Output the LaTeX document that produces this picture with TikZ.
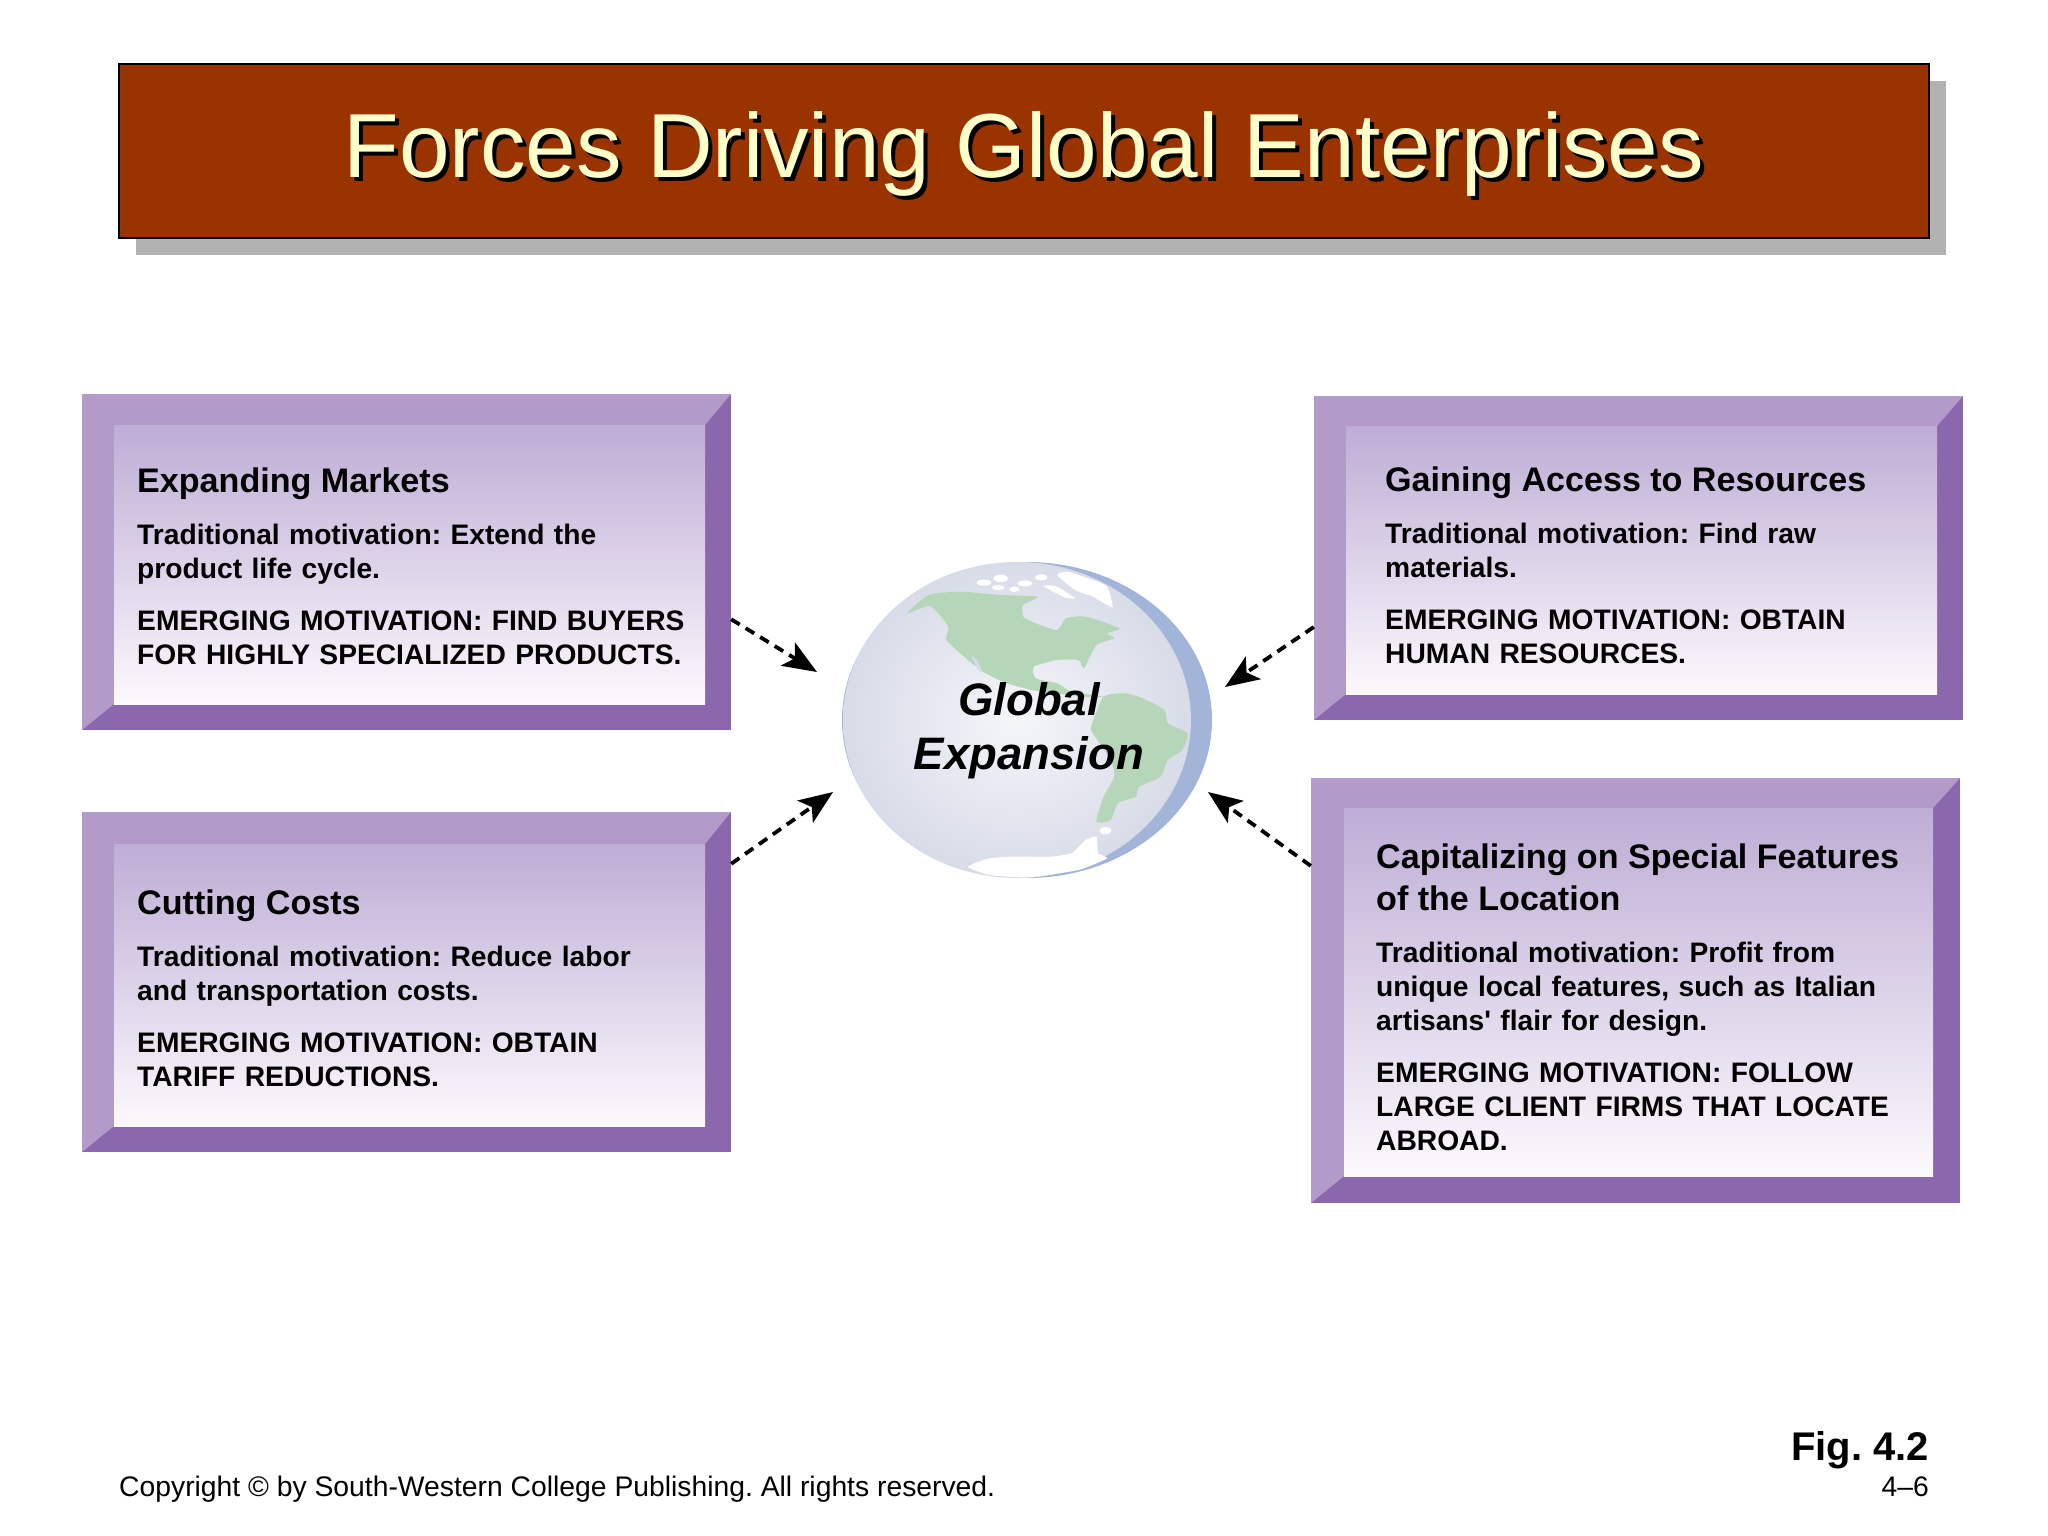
\documentclass[tikz,border=0pt]{standalone}
\usepackage{fontspec}
\setmainfont{Liberation Sans}
\usepackage{xcolor}
\usepackage{tikz}
\usetikzlibrary{arrows.meta}
\usetikzlibrary{fit}
\usetikzlibrary{shapes.geometric}
\frenchspacing
\definecolor{titlefill}{HTML}{993300}
\definecolor{titletext}{HTML}{FFFFCC}
\definecolor{titleshade}{HTML}{B2B2B2}
\definecolor{bevellight}{HTML}{B39BC9}
\definecolor{beveldark}{HTML}{8B67AE}
\definecolor{paneltop}{HTML}{BEADD5}
\definecolor{panelbottom}{HTML}{FCF9FD}
\definecolor{landgreen}{HTML}{B5D6B9}
\definecolor{globeblue}{HTML}{A2B5D8}
\definecolor{globeedge}{HTML}{D8DCE8}
\definecolor{globemid}{HTML}{F5F6FA}
\newcommand{\panelhead}[1]{{\fontsize{34.1}{42}\selectfont #1\par}}
\tikzset{
    title nodes/.style={
        anchor=base,
        inner sep=0pt,
        font=\fontsize{91}{110}\selectfont
    },
    panel text/.style={
        anchor=base west,
        inner sep=0pt,
        text width=600pt,
        font=\fontsize{28.2}{34}\selectfont\bfseries\setlength{\parskip}{18pt}\setlength{\parindent}{0pt}
    },
    globe text/.style={
        anchor=base,
        inner sep=0pt,
        font=\fontsize{45.5}{54}\selectfont\bfseries\itshape
    },
    footer text/.style={
        anchor=base east,
        inner sep=0pt
    },
    force arrow/.style={
        dashed,
        dash pattern=on 10pt off 7pt,
        line width=3.8pt,
        -{Stealth[length=34pt,width=27pt,inset=8pt]}
    }
}
\begin{document}
\begin{tikzpicture}[x=1pt,y=-1pt]
    \useasboundingbox (0,0) rectangle (2048,1536);
    % title bar
    \node[fill=titleshade,minimum width=1810pt,minimum height=173pt,inner sep=0pt] (titleshadow) at (1041,168) {};
    \node[draw=black,line width=2pt,fill=titlefill,minimum width=1810pt,minimum height=173pt,inner sep=0pt] (titlebar) at (1024,151) {};
    \node[title nodes,text=black] (titledrop) at (1028,182) {Forces Driving Global Enterprises};
    \node[title nodes,text=titletext] (titlename) at (1024,178) {Forces Driving Global Enterprises};
    % panels
    \foreach \nm/\xa/\ya/\xb/\yb/\xc/\yc/\xd/\yd in {
        expanding/82/394/731/730/114/425/705/704,
        cutting/82/812/731/1152/114/844/705/1126,
        gaining/1314/396/1963/720/1346/426/1937/694,
        special/1311/778/1960/1203/1344/808/1933/1176}
    {
        \node[fit={(\xa,\ya)(\xb,\yb)},inner sep=0pt,fill=beveldark] (\nm) {};
        \fill[bevellight] (\xa,\yb) -- (\xa,\ya) -- (\xb,\ya) -- (\xd,\yc) -- (\xc,\yc) -- (\xc,\yd) -- cycle;
        \shade[top color=paneltop,bottom color=panelbottom] (\xc,\yc) rectangle (\xd,\yd);
    }
    \node[panel text] (expandingtext) at (137,492) {\panelhead{Expanding Markets}
        Traditional motivation: Extend the\\product life cycle.\par
        EMERGING MOTIVATION: FIND BUYERS\\FOR HIGHLY SPECIALIZED PRODUCTS.};
    \node[panel text] (cuttingtext) at (137,914) {\panelhead{Cutting Costs}
        Traditional motivation: Reduce labor\\and transportation costs.\par
        EMERGING MOTIVATION: OBTAIN\\TARIFF REDUCTIONS.};
    \node[panel text] (gainingtext) at (1385,491) {\panelhead{Gaining Access to Resources}
        Traditional motivation: Find raw\\materials.\par
        EMERGING MOTIVATION: OBTAIN\\HUMAN RESOURCES.};
    \node[panel text] (specialtext) at (1376,868) {\panelhead{Capitalizing on Special Features\\of the Location}
        Traditional motivation: Profit from\\unique local features, such as Italian\\artisans\textquotesingle{} flair for design.\par
        EMERGING MOTIVATION: FOLLOW\\LARGE CLIENT FIRMS THAT LOCATE\\ABROAD.};
    % globe
    \node[ellipse,fill=globeblue,minimum width=370pt,minimum height=316pt,inner sep=0pt] (globe) at (1027,720) {};
    \shade[inner color=globemid,outer color=globeedge] (1017,720) ellipse [x radius=174,y radius=158];
    \begin{scope}[shift={(800,520)},x=0.35714pt,y=-0.33333pt]
        \fill[landgreen] plot[smooth cycle,tension=0.35] coordinates {(300,280) (360,225) (450,215) (560,225) (665,230) (625,255)
            (625,290) (660,310) (720,330) (745,295) (800,290) (895,325) (860,340) (880,355) (830,375) (795,445) (780,420)
            (720,420) (655,440) (660,475) (720,490) (760,515) (850,530) (790,530) (650,510) (580,490) (520,460) (470,420)
            (410,360) (415,320) (365,258)};
        \fill[landgreen] plot[smooth cycle,tension=0.35] coordinates {(850,530) (910,520) (960,535) (1020,570) (1030,610) (1085,640)
            (1070,690) (1030,720) (1010,770) (950,800) (940,830) (890,850) (870,900) (830,905) (850,830) (880,770) (870,720)
            (820,640) (815,620)};
        \fill[white] plot[smooth cycle,tension=0.3] coordinates {(470,1040) (530,1015) (600,1010) (700,1010) (760,1000) (800,960)
            (830,950) (835,1000) (860,1015) (780,1050) (640,1072) (530,1065)};
        \fill[white] plot[smooth cycle,tension=0.3] coordinates {(720,165) (750,155) (820,180) (860,200) (875,262) (820,230) (770,210)};
        \fill[white] plot[smooth cycle,tension=0.3] coordinates {(680,197) (720,200) (770,235) (740,232)};
        \fill[globeedge] plot[smooth cycle,tension=0.3] coordinates {(480,408) (495,420) (512,458) (498,448)};
        \foreach \px/\py/\rx/\ry in {515/188/20/9,562/175/20/11,555/203/18/7,600/208/14/8,630/190/20/9,675/172/18/9,855/932/17/11}
            \fill[white] (\px,\py) ellipse [x radius=\rx,y radius=\ry];
    \end{scope}
    \node[globe text] (globeline) at (1029,715) {Global};
    \node[globe text] (globelinetwo) at (1029,769) {Expansion};
    % connectors
    \coordinate (tipexpanding) at (817,672);
    \coordinate (tipcutting) at (833,792);
    \coordinate (tipgaining) at (1225,687);
    \coordinate (tipspecial) at (1208,792);
    \foreach \s/\a/\t in {expanding/-10/tipexpanding,cutting/20/tipcutting,gaining/192.8/tipgaining,special/159/tipspecial}
        \draw[force arrow] (\s.\a) -- (\t);
    % footer
    \node[anchor=base west,inner sep=0pt,font=\fontsize{28.3}{34}\selectfont] (copyrightline) at (119,1496) {Copyright © by South-Western College Publishing. All rights reserved.};
    \node[footer text,font=\fontsize{40}{46}\selectfont\bfseries] (figlabel) at (1929,1460) {Fig. 4.2};
    \node[footer text,font=\fontsize{28.3}{32}\selectfont] (pagelabel) at (1929,1496) {4–6};
\end{tikzpicture}
\end{document}
